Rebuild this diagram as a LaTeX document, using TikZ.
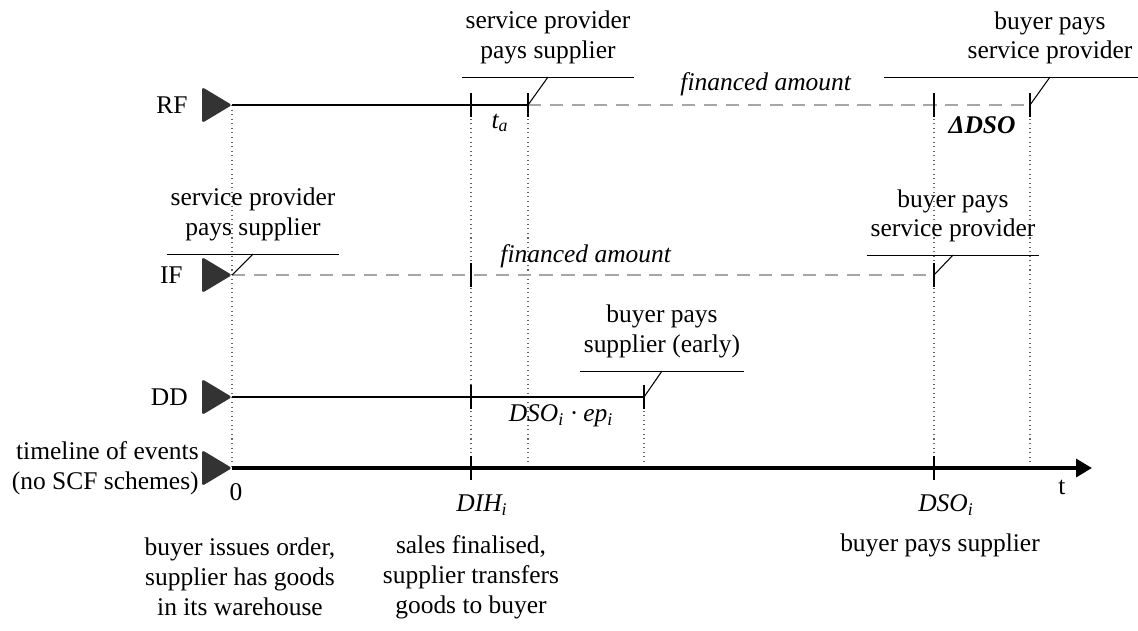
\documentclass[tikz,border=0pt]{standalone}
\usepackage{fontspec}
\setmainfont{Liberation Serif}
\usetikzlibrary{positioning,arrows.meta}

\begin{document}
\begin{tikzpicture}[
	x=0.02cm, y=-0.02cm,
	every node/.style={font=\fontsize{14.5}{17}\selectfont},
	rowlabel/.style={inner sep=0, align=right},
	solidline/.style={line width=1.2pt},
	financed/.style={line width=1.2pt, gray!70, dash pattern=on 7.5pt off 5pt},
	guide/.style={black!60, line width=0.6pt, dotted},
	axis/.style={line width=2.4pt, -{Triangle[length=9pt,width=10pt]}},
	callout/.style={anchor=south, align=center, inner xsep=2pt, inner ysep=7pt},
	leader/.style={line width=0.6pt},
	marker/.pic={\fill[black!80, rounded corners=1.5pt] (0,0) -- (-30,-18) -- (-30,18) -- cycle;},
	tick/.pic={\draw[line width=1pt] (0,-12) -- (0,12);},
	node distance=5mm
]
\useasboundingbox (0,0) rectangle (1138,630);

% rows start here
\coordinate (rf) at (232,105);
\coordinate (if) at (232,275);
\coordinate (dd) at (232,397);
\coordinate (tl) at (232,468);

% event columns, on the timeline
\coordinate (c-dih) at (471,468);
\coordinate (c-ta) at (528,468);
\coordinate (c-early) at (644,468);
\coordinate (c-dso) at (934,468);
\coordinate (c-late) at (1030,468);
\coordinate (end) at (1092,468);

% dotted guides down to the timeline
\foreach \c in {tl,c-dih,c-ta,c-dso,c-late}
	\draw[guide] (\c |- rf) -- (\c);
\draw[guide] (c-early |- dd) -- (c-early);

% row markers and names
\foreach \r in {rf,if,dd,tl}
	\pic at (\r) {marker};
\node[rowlabel, left=0.88cm of rf] (rf-name) {RF};
\node[rowlabel, left=0.98cm of if] (if-name) {IF};
\node[rowlabel, left=0.88cm of dd] (dd-name) {DD};
\node[rowlabel, left=0.66cm of tl] (tl-name) {timeline of events\\(no SCF schemes)};

% RF
\draw[financed] (c-ta |- rf) -- (c-late |- rf);
\draw[solidline] (rf) -- (c-ta |- rf);
\foreach \c in {c-dih,c-ta,c-dso,c-late}
	\pic at (\c |- rf) {tick};
\node (ta-len) at (500,123) {\textit{t\textsubscript{a}}};
\node (rf-amount) at (766,84) {\textit{financed amount}};
\node (rf-delta) at (982,125) {\textbf{\textit{ΔDSO}}};

\node[callout] (rf-pay) at (548,77) {service provider\\pays supplier};
\draw (rf-pay.south west) -- (rf-pay.south east);
\draw[leader] (c-ta |- rf) -- (rf-pay.south);

\node[callout] (rf-back) at (1050,77) {buyer pays\\service provider};
\draw ([xshift=-1.6cm]rf-back.south west) -- ([xshift=0.4cm]rf-back.south east);
\draw[leader] (c-late |- rf) -- (rf-back.south);

% IF
\draw[financed] (if) -- (c-dso |- if);
\foreach \c in {c-dih,c-dso}
	\pic at (\c |- if) {tick};
\node (if-amount) at (586,256) {\textit{financed amount}};

\node[callout] (if-pay) at (253,254) {service provider\\pays supplier};
\draw (if-pay.south west) -- (if-pay.south east);
\draw[leader] (if) -- (if-pay.south);

\node[callout] (if-back) at (953,255) {buyer pays\\service provider};
\draw (if-back.south west) -- (if-back.south east);
\draw[leader] (c-dso |- if) -- (if-back.south);

% DD
\draw[solidline] (dd) -- (c-early |- dd);
\foreach \c in {c-dih,c-early}
	\pic at (\c |- dd) {tick};
\node (dd-len) at (561,416) {\textit{DSO\textsubscript{i} · ep\textsubscript{i}}};

\node[callout] (dd-pay) at (662,371) {buyer pays\\supplier (early)};
\draw (dd-pay.south west) -- (dd-pay.south east);
\draw[leader] (c-early |- dd) -- (dd-pay.south);

% timeline
\draw[axis] (tl) -- (end);
\foreach \c in {c-dih,c-dso}
	\pic at (\c) {tick};
\node (zero) at (236,492) {0};
\node (dih) at (482,505) {\textit{DIH\textsubscript{i}}};
\node (dso) at (946,505) {\textit{DSO\textsubscript{i}}};
\node (t) at (1062,487) {t};

\node[align=center] (order) at (240,577) {buyer issues order,\\supplier has goods\\in its warehouse};
\node[align=center] (sale) at (471,577) {sales finalised,\\supplier transfers\\goods to buyer};
\node[align=center] (paid) at (940,545) {buyer pays supplier};

\end{tikzpicture}
\end{document}
